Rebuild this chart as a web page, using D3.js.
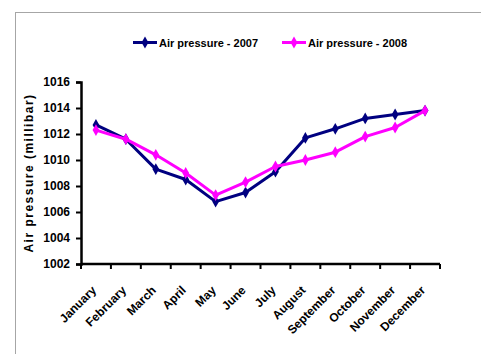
<!DOCTYPE html>
<html>
<head>
<meta charset="utf-8">
<script src="https://cdn.jsdelivr.net/npm/d3@7"></script>
<style>
  html, body { margin: 0; padding: 0; background: #fff; }
  svg { display: block; font-family: "Liberation Sans", Arial, sans-serif; }
</style>
</head>
<body>
<svg id="chart" width="481" height="354"></svg>
<script>
// Monthly mean air pressure (millibar)
const months = ["January", "February", "March", "April", "May", "June",
                "July", "August", "September", "October", "November", "December"];
const pressure2007 = [1012.7, 1011.6, 1009.3, 1008.5, 1006.8, 1007.5,
                      1009.1, 1011.7, 1012.4, 1013.2, 1013.5, 1013.8];
const pressure2008 = [1012.3, 1011.6, 1010.4, 1009.0, 1007.3, 1008.3,
                      1009.5, 1010.0, 1010.6, 1011.8, 1012.5, 1013.8];
const yTicks = [1002, 1004, 1006, 1008, 1010, 1012, 1014, 1016];

const series = [
  { name: "Air pressure - 2007", values: pressure2007, color: "#000080" },
  { name: "Air pressure - 2008", values: pressure2008, color: "#ff00ff" }
];

const svg = d3.select("#chart");

// outer chart frame
svg.append("rect")
  .attr("x", 15.5).attr("y", 12.5)
  .attr("width", 500).attr("height", 400)
  .attr("fill", "none").attr("stroke", "#a6a6a6").attr("stroke-width", 1);

const plot = { left: 81, right: 440, top: 82, bottom: 264 };

const x = d3.scaleBand().domain(months).range([plot.left, plot.right]).padding(0);
const y = d3.scaleLinear().domain([1002, 1016]).range([plot.bottom, plot.top]);

// y axis
const yAxis = svg.append("g")
  .attr("transform", `translate(${plot.left},0)`)
  .call(d3.axisLeft(y).tickValues(yTicks).tickFormat(d3.format("d")).tickSize(5).tickPadding(6));
yAxis.select(".domain").attr("stroke", "#000").attr("stroke-width", 2.5);
yAxis.selectAll(".tick line").attr("stroke", "#000").attr("stroke-width", 2);
yAxis.selectAll(".tick text")
  .attr("font-size", "12px").attr("font-weight", "bold").attr("fill", "#000")
  .attr("font-family", "Liberation Sans, Arial, sans-serif");

// x axis: ticks sit between categories
const xAxis = svg.append("g")
  .attr("transform", `translate(0,${plot.bottom})`);
const boundaries = d3.range(months.length + 1).map(i => plot.left + i * x.bandwidth());
xAxis.append("line")
  .attr("x1", plot.left).attr("x2", plot.right)
  .attr("y1", 0).attr("y2", 0)
  .attr("stroke", "#000").attr("stroke-width", 2.5);
xAxis.selectAll("line.tick")
  .data(boundaries)
  .join("line")
  .attr("class", "tick")
  .attr("x1", d => d).attr("x2", d => d)
  .attr("y1", 0).attr("y2", 5)
  .attr("stroke", "#000").attr("stroke-width", 2);

xAxis.selectAll("text.month")
  .data(months)
  .join("text")
  .attr("class", "month")
  .attr("transform", d => `translate(${x(d) + x.bandwidth() / 2 + 1},${27}) rotate(-45)`)
  .attr("text-anchor", "end")
  .attr("font-size", "12px").attr("font-weight", "bold").attr("fill", "#000")
  .text(d => d);

// y axis title
svg.append("text")
  .attr("transform", `translate(33,${(plot.top + plot.bottom) / 2}) rotate(-90)`)
  .attr("text-anchor", "middle")
  .attr("font-size", "12px").attr("font-weight", "bold")
  .attr("letter-spacing", "1.5px")
  .text("Air pressure (millibar)");

// lines and markers
const line = d3.line()
  .x((d, i) => x(months[i]) + x.bandwidth() / 2)
  .y(d => y(d));
const diamond = d3.symbol().type(d3.symbolDiamond).size(40);

series.forEach(s => {
  svg.append("path")
    .datum(s.values)
    .attr("d", line)
    .attr("fill", "none")
    .attr("stroke", s.color)
    .attr("stroke-width", 3)
    .attr("stroke-linejoin", "round");
  svg.append("g").selectAll("path")
    .data(s.values)
    .join("path")
    .attr("transform", (d, i) => `translate(${x(months[i]) + x.bandwidth() / 2},${y(d)})`)
    .attr("d", diamond)
    .attr("fill", s.color);
});

// legend
const legendItems = [
  { s: series[0], x0: 133 },
  { s: series[1], x0: 282 }
];
const legendY = 42.5;
legendItems.forEach(it => {
  const g = svg.append("g");
  g.append("line")
    .attr("x1", it.x0).attr("x2", it.x0 + 24)
    .attr("y1", legendY).attr("y2", legendY)
    .attr("stroke", it.s.color).attr("stroke-width", 3);
  g.append("path")
    .attr("transform", `translate(${it.x0 + 12},${legendY})`)
    .attr("d", diamond)
    .attr("fill", it.s.color);
  g.append("text")
    .attr("x", it.x0 + 26).attr("y", legendY + 4)
    .attr("font-size", "11px").attr("font-weight", "bold")
    .text(it.s.name);
});
</script>
</body>
</html>
